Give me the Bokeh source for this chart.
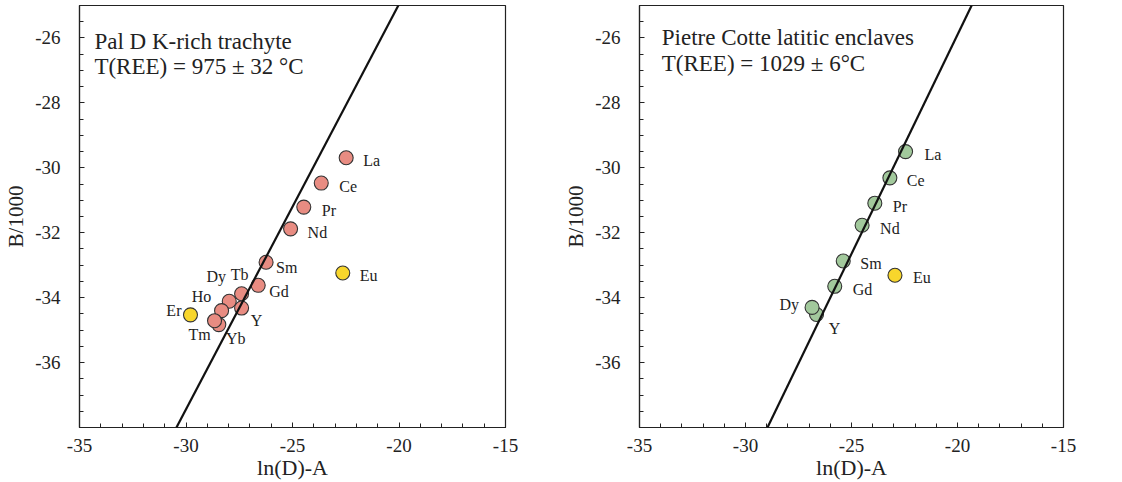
from bokeh.plotting import figure
from bokeh.layouts import row
from bokeh.models import ColumnDataSource, Slope, Label, FixedTicker, Range1d
from bokeh.embed import file_html
from bokeh.resources import INLINE
from bokeh.core.properties import value

# ---------------- data ----------------
x_tick_values = [-35, -30, -25, -20, -15]
x_tick_labels = ["-35", "-30", "-25", "-20", "-15"]
y_tick_values = [-36, -34, -32, -30, -28, -26]
y_tick_labels = ["-36", "-34", "-32", "-30", "-28", "-26"]
x_range_limits = [-35, -15]
y_range_limits = [-38, -25]

# Left panel: Pal D K-rich trachyte
left_title = ["Pal D K-rich trachyte", "T(REE) = 975 \u00b1 32 \u00b0C"]
left_elements = ["La", "Ce", "Pr", "Nd", "Sm", "Gd", "Tb", "Dy", "Ho", "Y", "Yb", "Tm", "Er", "Eu"]
left_x = [-22.48, -23.65, -24.47, -25.09, -26.24, -26.61, -27.39, -27.97, -28.33, -27.39, -28.46, -28.66, -29.79, -22.64]
left_y = [-29.69, -30.47, -31.21, -31.88, -32.91, -33.62, -33.88, -34.11, -34.40, -34.32, -34.83, -34.71, -34.53, -33.24]
left_excluded = ["Er", "Eu"]
left_fit_gradient = 1.248
left_fit_intercept = 0.0

# Right panel: Pietre Cotte latitic enclaves
right_title = ["Pietre Cotte latitic enclaves", "T(REE) = 1029 \u00b1 6\u00b0C"]
right_elements = ["La", "Ce", "Pr", "Nd", "Sm", "Gd", "Y", "Dy", "Eu"]
right_x = [-22.45, -23.19, -23.90, -24.50, -25.39, -25.79, -26.65, -26.86, -22.95]
right_y = [-29.50, -30.31, -31.09, -31.77, -32.87, -33.65, -34.52, -34.30, -33.31]
right_excluded = ["Eu"]
right_fit_gradient = 1.35
right_fit_intercept = 1.1

# ---------------- label placement (screen px offsets) ----------------
left_label_layout = {
    "La": (17, 3, "left"), "Ce": (18, 3, "left"), "Pr": (18, 3, "left"),
    "Nd": (17, 4, "left"), "Sm": (10, 5, "left"), "Gd": (11, 6, "left"),
    "Tb": (-2, -19, "center"), "Dy": (-13, -25, "center"), "Ho": (-20, -14, "center"),
    "Y": (15, 12, "center"), "Tm": (-15, 14, "center"), "Yb": (17, 14, "center"),
    "Er": (-9, -4, "right"), "Eu": (17, 3, "left"),
}
right_label_layout = {
    "La": (19, 3, "left"), "Ce": (17, 3, "left"), "Pr": (18, 3, "left"),
    "Nd": (18, 3, "left"), "Sm": (17, 3, "left"), "Gd": (18, 3, "left"),
    "Dy": (-13, -3, "right"), "Y": (18, 14, "center"), "Eu": (18, 2, "left"),
}

FONT = "Liberation Serif"
COL_FIT = {"left": "#E88C82", "right": "#A2C99C"}
COL_EXCL = "#F8D62C"


def make_panel(side, title, elements, xs, ys, excluded, grad, icpt, layout,
               border_left, border_right, title_x, title_y):
    p = figure(width=561, height=482, output_backend="svg", toolbar_location=None,
               x_range=Range1d(*x_range_limits), y_range=Range1d(*y_range_limits),
               min_border_left=border_left, min_border_right=border_right,
               min_border_top=5, min_border_bottom=10,
               background_fill_color="white", border_fill_color="white",
               outline_line_color="#222222", outline_line_width=1.2)
    p.grid.visible = False

    p.xaxis.ticker = FixedTicker(ticks=x_tick_values,
                                 minor_ticks=list(range(x_range_limits[0], x_range_limits[1] + 1)))
    p.yaxis.ticker = FixedTicker(ticks=y_tick_values,
                                 minor_ticks=[y_range_limits[0] + 0.5 * i for i in range(27)])
    p.xaxis.major_label_overrides = {v: s for v, s in zip(x_tick_values, x_tick_labels)}
    p.yaxis.major_label_overrides = {v: s for v, s in zip(y_tick_values, y_tick_labels)}
    for ax in (p.xaxis[0], p.yaxis[0]):
        ax.axis_line_color = "#222222"
        ax.axis_line_width = 1.2
        ax.major_tick_in = 5
        ax.major_tick_out = 0
        ax.minor_tick_in = 4
        ax.minor_tick_out = 0
        ax.major_tick_line_color = "#222222"
        ax.minor_tick_line_color = "#222222"
        ax.major_label_text_font = FONT
        ax.major_label_text_font_size = "19px"
        ax.major_label_text_color = "#222222"
        ax.axis_label_text_font = FONT
        ax.axis_label_text_font_style = "normal"
        ax.axis_label_text_color = "#222222"
    p.xaxis.axis_label = "ln(D)-A"
    p.xaxis.axis_label_text_font_size = "22px"
    p.xaxis.major_label_standoff = 11
    p.xaxis.axis_label_standoff = 0
    p.yaxis.axis_label = "B/1000"
    p.yaxis.axis_label_text_font_size = "21px"
    p.yaxis.major_label_standoff = 19
    p.yaxis.axis_label_standoff = 4

    p.add_layout(Slope(gradient=grad, y_intercept=icpt, line_color="#111111", line_width=2.2))

    colors = [COL_EXCL if e in excluded else COL_FIT[side] for e in elements]
    src = ColumnDataSource(dict(
        x=xs, y=ys, name=elements, color=colors,
        dx=[layout[e][0] for e in elements],
        dy=[layout[e][1] for e in elements],
        align=[layout[e][2] for e in elements],
    ))
    p.scatter("x", "y", source=src, size=14, fill_color="color",
              line_color="#333333", line_width=1.1)
    p.text("x", "y", text="name", source=src, x_offset="dx", y_offset="dy",
           text_align="align", text_baseline="middle",
           text_font=value(FONT), text_font_size="16px", text_color="#222222")

    for i, line in enumerate(title):
        p.add_layout(Label(x=title_x, y=title_y[i], text=line, text_font=FONT,
                           text_font_size="23px", text_color="#222222",
                           text_baseline="alphabetic"))
    return p


left = make_panel("left", left_title, left_elements, left_x, left_y, left_excluded,
                  left_fit_gradient, left_fit_intercept, left_label_layout,
                  79, 56, -34.3, [-26.11, -26.89])
right = make_panel("right", right_title, right_elements, right_x, right_y, right_excluded,
                   right_fit_gradient, right_fit_intercept, right_label_layout,
                   78, 59, -33.95, [-26.0, -26.8])

layout = row(left, right)
open("out.html", "w").write(file_html(layout, INLINE))
